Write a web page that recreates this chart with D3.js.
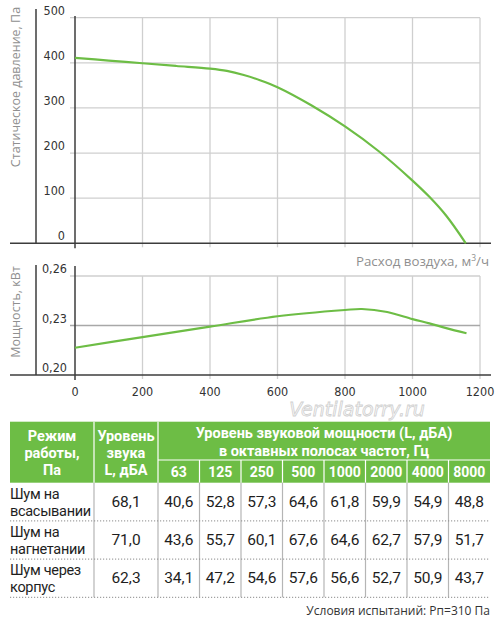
<!DOCTYPE html>
<html><head><meta charset="utf-8">
<script src="https://cdn.jsdelivr.net/npm/d3@7"></script>
<style>
html,body{margin:0;padding:0;background:#fff;}
svg{display:block;}
</style></head>
<body>
<svg id="c" width="500" height="626"></svg>
<script>
// ---- data ----
const flowTicks = [0, 200, 400, 600, 800, 1000, 1200];
const pressureTicks = [0, 100, 200, 300, 400, 500];
const powerTicks = [0.20, 0.23, 0.26];
const powerTickLabels = ["0,20", "0,23", "0,26"];

const pressureFlow = [0, 100, 200, 300, 400, 450, 500, 550, 600, 700, 800, 900, 1000, 1050, 1100, 1158];
const pressureVals = [411, 405, 399, 393, 387, 382, 373, 361, 346, 306, 259, 204, 139, 103, 61, 0];

const powerFlow = [0, 200, 400, 600, 800, 850, 925, 1000, 1050, 1100, 1160];
const powerVals = [0.2165, 0.2230, 0.2293, 0.2356, 0.2394, 0.2400, 0.2382, 0.2339, 0.2313, 0.2284, 0.2253];

const freqs = ["63", "125", "250", "500", "1000", "2000", "4000", "8000"];
const rowNames = [["Шум на", "всасывании"], ["Шум на", "нагнетании"], ["Шум через", "корпус"]];
const totalLevel = ["68,1", "71,0", "62,3"];
const octaveVals = [
  ["40,6", "52,8", "57,3", "64,6", "61,8", "59,9", "54,9", "48,8"],
  ["43,6", "55,7", "60,1", "67,6", "64,6", "62,7", "57,9", "51,7"],
  ["34,1", "47,2", "54,6", "57,6", "56,6", "52,7", "50,9", "43,7"]
];
const head1 = ["Режим", "работы,", "Па"];
const head2 = ["Уровень", "звука", "L, дБА"];
const head3 = ["Уровень звуковой мощности (L, дБА)", "в октавных полосах частот, Гц"];
const footer = "Условия испытаний: Рп=310 Па";
const watermark = "Ventilatorry.ru";

// ---- drawing ----
const svg = d3.select("#c");
const GREEN = "#6dbd45";
const GRID = "#cfcfcf";
const AX = "#3c3c3c";
const tickFont = "'Liberation Sans Narrow','DejaVu Sans Condensed',sans-serif";
const textFont = "'Open Sans','Noto Sans',sans-serif";
const tableFont = "Roboto,'Noto Sans',sans-serif";

const x = d3.scaleLinear().domain([0, 1200]).range([75, 480]);
const yP = d3.scaleLinear().domain([0, 500]).range([243.3, 17.7]);
const yW = d3.scaleLinear().domain([0.20, 0.26]).range([375, 276]);

// --- top chart grid ---
const g1 = svg.append("g");
g1.selectAll("line.vg").data(flowTicks.slice(1)).join("line")
  .attr("x1", d => x(d)).attr("x2", d => x(d))
  .attr("y1", yP(500)).attr("y2", yP(0) + 4)
  .attr("stroke", GRID).attr("stroke-width", 1.3);
g1.selectAll("line.hg").data(pressureTicks.slice(1)).join("line")
  .attr("x1", 70).attr("x2", x(1200))
  .attr("y1", d => yP(d)).attr("y2", d => yP(d))
  .attr("stroke", GRID).attr("stroke-width", 1.3);
// axes
g1.append("line").attr("x1", 10).attr("x2", 491).attr("y1", yP(0)).attr("y2", yP(0))
  .attr("stroke", AX).attr("stroke-width", 1.5);
g1.append("line").attr("x1", 36).attr("x2", 36).attr("y1", 9).attr("y2", yP(0))
  .attr("stroke", AX).attr("stroke-width", 1.5);
g1.append("line").attr("x1", x(0)).attr("x2", x(0)).attr("y1", 16).attr("y2", yP(0) + 5)
  .attr("stroke", AX).attr("stroke-width", 1.5);
// tick labels
g1.selectAll("text.yl").data(pressureTicks).join("text")
  .attr("x", 65).attr("y", d => yP(d) - 3)
  .attr("text-anchor", "end")
  .attr("font-family", tickFont).attr("font-size", 12.5).attr("fill", "#333")
  .text(d => d);
// axis titles
g1.append("text")
  .attr("transform", "translate(20," + 87 + ") rotate(-90)")
  .attr("text-anchor", "middle")
  .attr("font-family", textFont).attr("font-size", 12.5).attr("fill", "#8f8f8f")
  .text("Статическое давление, Па");
const xt = g1.append("text")
  .attr("x", 489).attr("y", 266)
  .attr("text-anchor", "end")
  .attr("font-family", textFont).attr("font-size", 13.3).attr("fill", "#8f8f8f");
xt.append("tspan").text("Расход воздуха, м");
xt.append("tspan").attr("font-size", 8.5).attr("dy", -5).text("3");
xt.append("tspan").attr("dy", 5).text("/ч");

// curve
const lineP = d3.line().x(d => x(d[0])).y(d => yP(d[1])).curve(d3.curveCatmullRom.alpha(0.5));
g1.append("path").datum(pressureFlow.map((q, i) => [q, pressureVals[i]]))
  .attr("d", lineP).attr("fill", "none").attr("stroke", GREEN).attr("stroke-width", 2.2);

// --- power chart ---
const g2 = svg.append("g");
g2.selectAll("line.vg").data(flowTicks.slice(1)).join("line")
  .attr("x1", d => x(d)).attr("x2", d => x(d))
  .attr("y1", yW(0.26)).attr("y2", yW(0.20) + 4)
  .attr("stroke", GRID).attr("stroke-width", 1.3);
g2.selectAll("line.hg").data(powerTicks.slice(1)).join("line")
  .attr("x1", 70).attr("x2", x(1200))
  .attr("y1", d => yW(d)).attr("y2", d => yW(d))
  .attr("stroke", (d, i) => i === 0 ? "#a8a8a8" : GRID).attr("stroke-width", 1.3);
g2.append("line").attr("x1", 10).attr("x2", 491).attr("y1", yW(0.20)).attr("y2", yW(0.20))
  .attr("stroke", AX).attr("stroke-width", 1.5);
g2.append("line").attr("x1", 36).attr("x2", 36).attr("y1", 265).attr("y2", yW(0.20))
  .attr("stroke", AX).attr("stroke-width", 1.5);
g2.append("line").attr("x1", x(0)).attr("x2", x(0)).attr("y1", 266).attr("y2", yW(0.20) + 5)
  .attr("stroke", AX).attr("stroke-width", 1.5);
g2.selectAll("text.yl").data(powerTicks).join("text")
  .attr("x", 67).attr("y", d => yW(d) - 3)
  .attr("text-anchor", "end")
  .attr("font-family", tickFont).attr("font-size", 12.5).attr("fill", "#333")
  .text((d, i) => powerTickLabels[i]);
g2.selectAll("text.xl").data(flowTicks).join("text")
  .attr("x", d => x(d)).attr("y", 396)
  .attr("text-anchor", "middle")
  .attr("font-family", tickFont).attr("font-size", 12.5).attr("fill", "#333")
  .text(d => d);
g2.append("text")
  .attr("transform", "translate(20," + 312 + ") rotate(-90)")
  .attr("text-anchor", "middle")
  .attr("font-family", textFont).attr("font-size", 12.5).attr("fill", "#8f8f8f")
  .text("Мощность, кВт");
const lineW = d3.line().x(d => x(d[0])).y(d => yW(d[1])).curve(d3.curveCatmullRom.alpha(0.5));
g2.append("path").datum(powerFlow.map((q, i) => [q, powerVals[i]]))
  .attr("d", lineW).attr("fill", "none").attr("stroke", GREEN).attr("stroke-width", 2.2);

// --- watermark ---
svg.append("text").attr("x", 357).attr("y", 416).attr("text-anchor", "middle")
  .attr("font-family", "'DejaVu Sans',sans-serif").attr("font-style", "italic")
  .attr("font-size", 19).attr("fill", "#fbfbfb").attr("stroke", "#d0d0d0").attr("stroke-width", 0.8)
  .text(watermark);

// --- table ---
const T = svg.append("g");
const tL = 10, tR = 490, c1 = 94, c2 = 158;
const hTop = 421.7, hMid = 460, hBot = 482.7;
const fx = d3.scaleBand().domain(freqs).range([c2, tR]);
const ry = d3.scaleBand().domain(d3.range(rowNames.length)).range([hBot, 597.3]);

T.append("rect").attr("x", tL).attr("y", hTop).attr("width", tR - tL).attr("height", hBot - hTop).attr("fill", GREEN);
// header separators
[c1, c2].forEach(v => T.append("line").attr("x1", v).attr("x2", v).attr("y1", hTop).attr("y2", hBot)
  .attr("stroke", "#fff").attr("stroke-width", 1.2));
T.append("line").attr("x1", c2).attr("x2", tR).attr("y1", hMid).attr("y2", hMid).attr("stroke", "#fff").attr("stroke-width", 1.2);
T.selectAll("line.fs").data(freqs.slice(1)).join("line")
  .attr("x1", d => fx(d)).attr("x2", d => fx(d)).attr("y1", hMid).attr("y2", hBot)
  .attr("stroke", "#fff").attr("stroke-width", 1.2);

const hdr = (txt, cx, cy, fs) => T.append("text").attr("x", cx).attr("y", cy).attr("text-anchor", "middle")
  .attr("dominant-baseline", "central")
  .attr("font-family", tableFont).attr("font-weight", "bold").attr("font-size", fs || 14.5).attr("fill", "#fff").text(txt);
head1.forEach((t, i) => hdr(t, (tL + c1) / 2, 436 + i * 17));
head2.forEach((t, i) => hdr(t, (c1 + c2) / 2, 436 + i * 17));
head3.forEach((t, i) => hdr(t, (c2 + tR) / 2, 433.5 + i * 17.5));
freqs.forEach(f => hdr(f, fx(f) + fx.bandwidth() / 2, 471.5, 14));

// body separators
T.selectAll("line.bv").data([c1, c2].concat(freqs.slice(1).map(f => fx(f)))).join("line")
  .attr("x1", d => d).attr("x2", d => d).attr("y1", hBot).attr("y2", 597.3)
  .attr("stroke", "#b5b5b5").attr("stroke-width", 1.2);
T.selectAll("line.bh").data(d3.range(rowNames.length)).join("line")
  .attr("x1", tL).attr("x2", tR)
  .attr("y1", d => ry(d) + ry.bandwidth()).attr("y2", d => ry(d) + ry.bandwidth())
  .attr("stroke", "#8a8a8a").attr("stroke-width", 1).attr("stroke-dasharray", "1.2,1.8");

const body = (txt, cx, cy, anchor, fs, ls) => T.append("text").attr("x", cx).attr("y", cy).attr("text-anchor", anchor || "middle")
  .attr("dominant-baseline", "central")
  .attr("letter-spacing", ls || 0)
  .attr("font-family", tableFont).attr("font-size", fs || 15.5).attr("fill", "#1e1e1e").text(txt);
rowNames.forEach((nm, r) => {
  const top = ry(r);
  body(nm[0], 10, top + 11.5, "start", 14.5, -0.3);
  body(nm[1], 10, top + 28.5, "start", 14.5, -0.3);
  body(totalLevel[r], (c1 + c2) / 2, top + 19);
  octaveVals[r].forEach((v, j) => body(v, fx(freqs[j]) + fx.bandwidth() / 2, top + 19));
});

svg.append("text").attr("x", 490).attr("y", 615).attr("text-anchor", "end")
  .attr("font-family", textFont).attr("font-size", 12).attr("fill", "#333").text(footer);
</script>
</body></html>
